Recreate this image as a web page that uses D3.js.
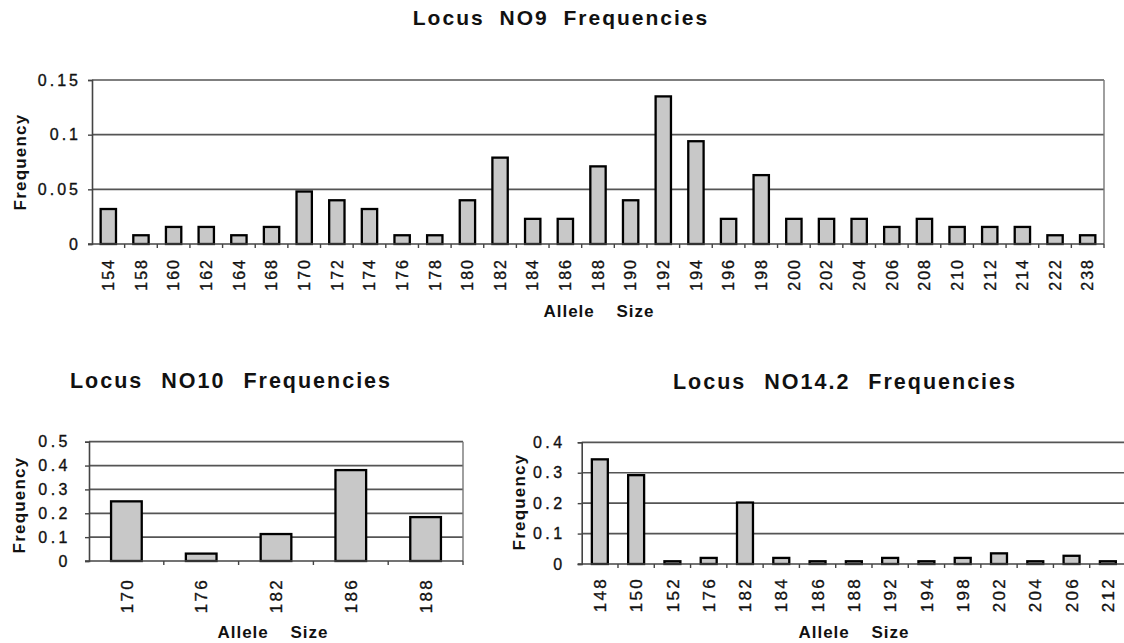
<!DOCTYPE html>
<html>
<head>
<meta charset="utf-8">
<script src="https://cdn.jsdelivr.net/npm/d3@7"></script>
<style>
  html, body { margin: 0; padding: 0; background: #fff; }
  svg { display: block; font-family: "Liberation Sans", Arial, Helvetica, sans-serif; }
</style>
</head>
<body>
<svg id="chart" width="1124" height="643"></svg>
<script>
// ---- Data ----
const no9Alleles = ["154","158","160","162","164","168","170","172","174","176","178","180","182","184","186","188","190","192","194","196","198","200","202","204","206","208","210","212","214","222","238"];
const no9Freq = [0.032,0.008,0.0156,0.0156,0.008,0.0156,0.048,0.040,0.032,0.008,0.008,0.040,0.079,0.023,0.023,0.071,0.040,0.135,0.094,0.023,0.063,0.023,0.023,0.023,0.0156,0.023,0.0156,0.0156,0.0156,0.008,0.008];
const no9Ticks = [0, 0.05, 0.1, 0.15];
const no9TickLabels = ["0", "0.05", "0.1", "0.15"];

const no10Alleles = ["170","176","182","186","188"];
const no10Freq = [0.25, 0.031, 0.113, 0.381, 0.184];
const no10Ticks = [0, 0.1, 0.2, 0.3, 0.4, 0.5];
const no10TickLabels = ["0", "0.1", "0.2", "0.3", "0.4", "0.5"];

const no142Alleles = ["148","150","152","176","182","184","186","188","192","194","198","202","204","206","212"];
const no142Freq = [0.344,0.292,0.009,0.02,0.202,0.02,0.009,0.009,0.02,0.009,0.02,0.035,0.009,0.027,0.009];
const no142Ticks = [0, 0.1, 0.2, 0.3, 0.4];
const no142TickLabels = ["0", "0.1", "0.2", "0.3", "0.4"];

const titles = ["Locus NO9 Frequencies", "Locus NO10 Frequencies", "Locus NO14.2 Frequencies"];
const xTitle = "Allele Size";
const yTitle = "Frequency";

// ---- Drawing ----
const svg = d3.select("#chart");

function drawChart(o) {
  const g = svg.append("g");
  const x = d3.scaleBand().domain(o.cats).range([o.left, o.right]).paddingInner(o.pad).paddingOuter(o.pad / 2);
  const xb = d3.scaleBand().domain(o.cats).range([o.left, o.right]);
  const y = d3.scaleLinear().domain([0, o.ticks[o.ticks.length - 1]]).range([o.bottom, o.top]);

  // gridlines
  g.selectAll("line.grid").data(o.ticks.slice(1)).join("line")
    .attr("x1", o.left).attr("x2", o.right)
    .attr("y1", d => y(d)).attr("y2", d => y(d))
    .attr("stroke", "#555").attr("stroke-width", 1.7);
  if (o.rightBorder) {
    g.append("line").attr("x1", o.right).attr("x2", o.right)
      .attr("y1", o.top).attr("y2", o.bottom)
      .attr("stroke", "#777").attr("stroke-width", 1.4);
  }

  // y axis
  const yAxis = d3.axisLeft(y).tickValues(o.ticks).tickSize(4).tickPadding(o.yPad)
    .tickFormat((d, i) => o.tickLabels[i]);
  const ya = g.append("g").attr("transform", `translate(${o.left},0)`).call(yAxis);
  ya.select(".domain").attr("stroke", "#444").attr("stroke-width", 1.6);
  ya.selectAll(".tick line").attr("stroke", "#444").attr("stroke-width", 1.4);
  ya.selectAll(".tick text").attr("font-size", o.yFont).attr("fill", "#111")
    .attr("stroke", "#111").attr("stroke-width", 0.35)
    .style("letter-spacing", o.yLs + "px").attr("font-family", "Liberation Sans, Arial, sans-serif");

  // bars
  g.selectAll("rect.bar").data(o.vals).join("rect")
    .attr("x", (d, i) => x(o.cats[i]))
    .attr("width", x.bandwidth())
    .attr("y", d => y(d))
    .attr("height", d => o.bottom - y(d))
    .attr("fill", "#c8c8c8").attr("stroke", "#000").attr("stroke-width", 2.3);

  // x axis baseline + ticks at category boundaries
  g.append("line").attr("x1", o.left - 4).attr("x2", o.right)
    .attr("y1", o.bottom).attr("y2", o.bottom)
    .attr("stroke", "#444").attr("stroke-width", 1.6);
  const bounds = o.cats.map(c => xb(c)).slice(1).concat([o.right]);
  g.selectAll("line.xt").data(bounds).join("line")
    .attr("x1", d => d).attr("x2", d => d)
    .attr("y1", o.bottom).attr("y2", o.bottom + 4)
    .attr("stroke", "#444").attr("stroke-width", 1.4);

  // x tick labels (rotated)
  g.selectAll("text.xl").data(o.cats).join("text")
    .attr("transform", d => `translate(${xb(d) + xb.bandwidth() / 2},${o.bottom + o.xOff}) rotate(-90)`)
    .attr("text-anchor", "end").attr("dy", "0.36em")
    .attr("font-size", o.xFont).style("letter-spacing", o.xLs + "px").attr("fill", "#111")
    .attr("stroke", "#111").attr("stroke-width", 0.35)
    .text(d => d);

  // titles
  g.append("text").attr("x", o.titleX).attr("y", o.titleY).attr("text-anchor", "middle")
    .attr("font-size", o.titleFont).attr("font-weight", "bold").attr("fill", "#111")
    .style("letter-spacing", "2px").style("word-spacing", o.titleWs + "px")
    .text(o.title);
  g.append("text").attr("x", o.xtX).attr("y", o.xtY).attr("text-anchor", "middle")
    .attr("font-size", 17).attr("font-weight", "bold").attr("fill", "#111")
    .style("letter-spacing", "1px").style("word-spacing", "16px")
    .text(xTitle);
  g.append("text").attr("transform", `translate(${o.ytX},${o.ytY}) rotate(-90)`)
    .attr("text-anchor", "middle")
    .attr("font-size", 17).attr("font-weight", "bold").attr("fill", "#111")
    .style("letter-spacing", "1.2px")
    .text(yTitle);
}

drawChart({
  cats: no9Alleles, vals: no9Freq, ticks: no9Ticks, tickLabels: no9TickLabels,
  left: 92, right: 1104, top: 80, bottom: 244, pad: 0.53, rightBorder: true,
  yFont: 16, yLs: 3, yPad: 7, xFont: 16, xLs: 2, xOff: 14,
  title: titles[0], titleX: 561, titleY: 25, titleFont: 21, titleWs: 7,
  xtX: 599, xtY: 317, ytX: 26, ytY: 162
});

drawChart({
  cats: no10Alleles, vals: no10Freq, ticks: no10Ticks, tickLabels: no10TickLabels,
  left: 89, right: 463, top: 441.7, bottom: 561, pad: 0.59, rightBorder: true,
  yFont: 16, yLs: 3.5, yPad: 14, xFont: 17, xLs: 2.3, xOff: 17,
  title: titles[1], titleX: 231, titleY: 388, titleFont: 21.5, titleWs: 10,
  xtX: 273, xtY: 638, ytX: 25, ytY: 505
});

drawChart({
  cats: no142Alleles, vals: no142Freq, ticks: no142Ticks, tickLabels: no142TickLabels,
  left: 581.7, right: 1126, top: 442.3, bottom: 564, pad: 0.56, rightBorder: false,
  yFont: 16, yLs: 3.5, yPad: 12, xFont: 17, xLs: 2.3, xOff: 13,
  title: titles[2], titleX: 845, titleY: 389, titleFont: 21.5, titleWs: 10,
  xtX: 854, xtY: 638, ytX: 525, ytY: 502
});
</script>
</body>
</html>
